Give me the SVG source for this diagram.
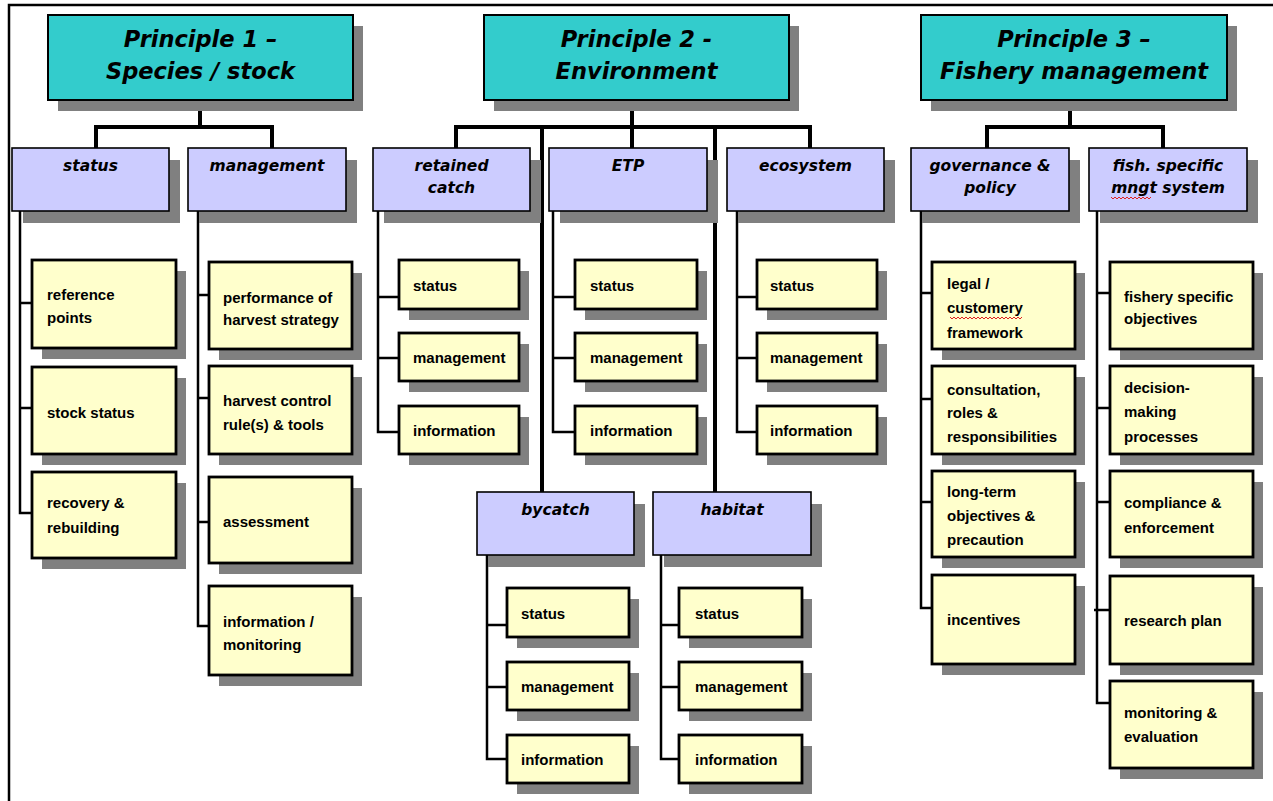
<svg xmlns="http://www.w3.org/2000/svg" width="1273" height="801" viewBox="0 0 1273 801">
<style>
.sh{fill:#808080}
.p{fill:#33CCCC;stroke:#000;stroke-width:2}
.c{fill:#CCCCFF;stroke:#000;stroke-width:1.6}
.b{fill:#FFFFCC;stroke:#000;stroke-width:2.8}
.tp{font-family:"DejaVu Sans",Verdana,sans-serif;font-weight:bold;font-style:italic;font-size:22.5px;text-anchor:middle;fill:#000}
.tc{font-family:"DejaVu Sans",Verdana,sans-serif;font-weight:bold;font-style:italic;font-size:15.5px;text-anchor:middle;fill:#000}
.tb{font-family:"Liberation Sans",Arial,sans-serif;font-weight:bold;font-size:15px;fill:#000}
.thick{fill:none;stroke:#000;stroke-width:4}
.thin{fill:none;stroke:#000;stroke-width:2.5}
.sq{fill:none;stroke:#e02020;stroke-width:1}
</style>
<rect x="0" y="0" width="1273" height="801" fill="#fff"/>
<path d="M9,801 V5 H1273" fill="none" stroke="#000" stroke-width="2.5"/>

<g id="connectors">
<path class="thick" d="M200,100 V127 M96,127 H272 M96,125 V148 M272,125 V148"/>
<path class="thick" d="M632,100 V148 M456,127 H812 M456,125 V148 M542,125 V492 M715,125 V492 M810,125 V148"/>
<path class="thick" d="M1070,100 V127 M987,127 H1165 M987,125 V148 M1163,125 V148"/>
<path class="thin" d="M20,211 V513 H32 M20,303 H32 M20,408 H32"/>
<path class="thin" d="M198,211 V626 H209 M198,295 H209 M198,398 H209 M198,522 H209"/>
<path class="thin" d="M378,211 V432 H399 M378,297 H399 M378,358 H399"/>
<path class="thin" d="M553,211 V432 H575 M553,297 H575 M553,358 H575"/>
<path class="thin" d="M737,211 V432 H757 M737,297 H757 M737,358 H757"/>
<path class="thin" d="M487,555 V759 H507 M487,625 H507 M487,687 H507"/>
<path class="thin" d="M661,555 V759 H679 M661,625 H679 M661,687 H679"/>
<path class="thin" d="M921,211 V608 H932 M921,293 H932 M921,399 H932 M921,502 H932"/>
<path class="thin" d="M1097,211 V703 H1110 M1097,293 H1110 M1097,408 H1110 M1097,502 H1110 M1094,610 H1110"/>
</g>

<g id="p1">
<rect class="sh" x="58" y="26" width="305" height="85"/>
<rect class="p" x="48" y="15" width="305" height="85"/>
<text class="tp" x="200.5" y="47">Principle 1 –</text>
<text class="tp" x="200.5" y="79">Species / stock</text>
</g>
<g id="p2">
<rect class="sh" x="494" y="26" width="305" height="85"/>
<rect class="p" x="484" y="15" width="305" height="85"/>
<text class="tp" x="636.5" y="47">Principle 2 -</text>
<text class="tp" x="636.5" y="79">Environment</text>
</g>
<g id="p3">
<rect class="sh" x="931" y="26" width="306" height="85"/>
<rect class="p" x="921" y="15" width="306" height="85"/>
<text class="tp" x="1074" y="47">Principle 3 –</text>
<text class="tp" x="1074" y="79">Fishery management</text>
</g>

<g id="c-status">
<rect class="sh" x="23" y="160" width="157" height="63"/>
<rect class="c" x="12" y="148" width="157" height="63"/>
<text class="tc" x="90.5" y="171">status</text>
</g>
<g id="c-management">
<rect class="sh" x="199" y="160" width="158" height="63"/>
<rect class="c" x="188" y="148" width="158" height="63"/>
<text class="tc" x="267" y="171">management</text>
</g>
<g id="c-retained">
<rect class="sh" x="384" y="160" width="157" height="63"/>
<rect class="c" x="373" y="148" width="157" height="63"/>
<text class="tc" x="451.5" y="171">retained</text>
<text class="tc" x="451.5" y="193">catch</text>
</g>
<g id="c-etp">
<rect class="sh" x="560" y="160" width="158" height="63"/>
<rect class="c" x="549" y="148" width="158" height="63"/>
<text class="tc" x="628" y="171">ETP</text>
</g>
<g id="c-ecosystem">
<rect class="sh" x="738" y="160" width="157" height="63"/>
<rect class="c" x="727" y="148" width="157" height="63"/>
<text class="tc" x="805.5" y="171">ecosystem</text>
</g>
<g id="c-bycatch">
<rect class="sh" x="488" y="504" width="157" height="63"/>
<rect class="c" x="477" y="492" width="157" height="63"/>
<text class="tc" x="555.5" y="515">bycatch</text>
</g>
<g id="c-habitat">
<rect class="sh" x="664" y="504" width="158" height="63"/>
<rect class="c" x="653" y="492" width="158" height="63"/>
<text class="tc" x="732" y="515">habitat</text>
</g>
<g id="c-governance">
<rect class="sh" x="922" y="160" width="158" height="63"/>
<rect class="c" x="911" y="148" width="158" height="63"/>
<text class="tc" x="990" y="171">governance &amp;</text>
<text class="tc" x="990" y="193">policy</text>
</g>
<g id="c-fish">
<rect class="sh" x="1100" y="160" width="158" height="63"/>
<rect class="c" x="1089" y="148" width="158" height="63"/>
<text class="tc" x="1168" y="171">fish. specific</text>
<text class="tc" x="1168" y="193">mngt system</text>
<path class="sq" d="M1111,197 l2,2 l2,-2 l2,2 l2,-2 l2,2 l2,-2 l2,2 l2,-2 l2,2 l2,-2 l2,2 l2,-2 l2,2 l2,-2 l2,2 l2,-2 l2,2 l2,-2 l2,2 l2,-2"/>
</g>

<g id="s-reference">
<rect class="sh" x="42" y="271" width="144" height="88"/>
<rect class="b" x="32" y="260" width="144" height="88"/>
<text class="tb" x="47" y="300">reference</text>
<text class="tb" x="47" y="323">points</text>
</g>
<g id="s-stock">
<rect class="sh" x="42" y="378" width="144" height="87"/>
<rect class="b" x="32" y="367" width="144" height="87"/>
<text class="tb" x="47" y="418">stock status</text>
</g>
<g id="s-recovery">
<rect class="sh" x="42" y="483" width="144" height="86"/>
<rect class="b" x="32" y="472" width="144" height="86"/>
<text class="tb" x="47" y="508">recovery &amp;</text>
<text class="tb" x="47" y="533">rebuilding</text>
</g>

<g id="m-performance">
<rect class="sh" x="219" y="273" width="143" height="87"/>
<rect class="b" x="209" y="262" width="143" height="87"/>
<text class="tb" x="223" y="303">performance of</text>
<text class="tb" x="223" y="325">harvest strategy</text>
</g>
<g id="m-hcr">
<rect class="sh" x="219" y="377" width="143" height="88"/>
<rect class="b" x="209" y="366" width="143" height="88"/>
<text class="tb" x="223" y="406">harvest control</text>
<text class="tb" x="223" y="430">rule(s) &amp; tools</text>
</g>
<g id="m-assessment">
<rect class="sh" x="219" y="488" width="143" height="86"/>
<rect class="b" x="209" y="477" width="143" height="86"/>
<text class="tb" x="223" y="527">assessment</text>
</g>
<g id="m-information">
<rect class="sh" x="219" y="597" width="143" height="89"/>
<rect class="b" x="209" y="586" width="143" height="89"/>
<text class="tb" x="223" y="627">information /</text>
<text class="tb" x="223" y="650">monitoring</text>
</g>

<g id="rc-status">
<rect class="sh" x="409" y="271" width="120" height="49"/>
<rect class="b" x="399" y="260" width="120" height="49"/>
<text class="tb" x="413" y="291">status</text>
</g>
<g id="rc-management">
<rect class="sh" x="409" y="344" width="120" height="48"/>
<rect class="b" x="399" y="333" width="120" height="48"/>
<text class="tb" x="413" y="363">management</text>
</g>
<g id="rc-information">
<rect class="sh" x="409" y="417" width="120" height="48"/>
<rect class="b" x="399" y="406" width="120" height="48"/>
<text class="tb" x="413" y="436">information</text>
</g>

<g id="etp-status">
<rect class="sh" x="585" y="271" width="122" height="49"/>
<rect class="b" x="575" y="260" width="122" height="49"/>
<text class="tb" x="590" y="291">status</text>
</g>
<g id="etp-management">
<rect class="sh" x="585" y="344" width="122" height="48"/>
<rect class="b" x="575" y="333" width="122" height="48"/>
<text class="tb" x="590" y="363">management</text>
</g>
<g id="etp-information">
<rect class="sh" x="585" y="417" width="122" height="48"/>
<rect class="b" x="575" y="406" width="122" height="48"/>
<text class="tb" x="590" y="436">information</text>
</g>

<g id="eco-status">
<rect class="sh" x="767" y="271" width="120" height="49"/>
<rect class="b" x="757" y="260" width="120" height="49"/>
<text class="tb" x="770" y="291">status</text>
</g>
<g id="eco-management">
<rect class="sh" x="767" y="344" width="120" height="48"/>
<rect class="b" x="757" y="333" width="120" height="48"/>
<text class="tb" x="770" y="363">management</text>
</g>
<g id="eco-information">
<rect class="sh" x="767" y="417" width="120" height="48"/>
<rect class="b" x="757" y="406" width="120" height="48"/>
<text class="tb" x="770" y="436">information</text>
</g>

<g id="by-status">
<rect class="sh" x="517" y="599" width="122" height="49"/>
<rect class="b" x="507" y="588" width="122" height="49"/>
<text class="tb" x="521" y="619">status</text>
</g>
<g id="by-management">
<rect class="sh" x="517" y="673" width="122" height="48"/>
<rect class="b" x="507" y="662" width="122" height="48"/>
<text class="tb" x="521" y="692">management</text>
</g>
<g id="by-information">
<rect class="sh" x="517" y="746" width="122" height="48"/>
<rect class="b" x="507" y="735" width="122" height="48"/>
<text class="tb" x="521" y="765">information</text>
</g>

<g id="hab-status">
<rect class="sh" x="689" y="599" width="123" height="49"/>
<rect class="b" x="679" y="588" width="123" height="49"/>
<text class="tb" x="695" y="619">status</text>
</g>
<g id="hab-management">
<rect class="sh" x="689" y="673" width="123" height="48"/>
<rect class="b" x="679" y="662" width="123" height="48"/>
<text class="tb" x="695" y="692">management</text>
</g>
<g id="hab-information">
<rect class="sh" x="689" y="746" width="123" height="48"/>
<rect class="b" x="679" y="735" width="123" height="48"/>
<text class="tb" x="695" y="765">information</text>
</g>

<g id="g-legal">
<rect class="sh" x="942" y="273" width="143" height="87"/>
<rect class="b" x="932" y="262" width="143" height="87"/>
<text class="tb" x="947" y="289">legal /</text>
<text class="tb" x="947" y="313">customery</text>
<text class="tb" x="947" y="338">framework</text>
<path class="sq" d="M950,317 l2,2 l2,-2 l2,2 l2,-2 l2,2 l2,-2 l2,2 l2,-2 l2,2 l2,-2 l2,2 l2,-2 l2,2 l2,-2 l2,2 l2,-2 l2,2 l2,-2 l2,2 l2,-2 l2,2 l2,-2 l2,2 l2,-2 l2,2 l2,-2 l2,2 l2,-2 l2,2 l2,-2 l2,2 l2,-2 l2,2 l2,-2 l2,2 l2,-2"/>
</g>
<g id="g-consultation">
<rect class="sh" x="942" y="377" width="143" height="88"/>
<rect class="b" x="932" y="366" width="143" height="88"/>
<text class="tb" x="947" y="395">consultation,</text>
<text class="tb" x="947" y="418">roles &amp;</text>
<text class="tb" x="947" y="442">responsibilities</text>
</g>
<g id="g-longterm">
<rect class="sh" x="942" y="482" width="143" height="86"/>
<rect class="b" x="932" y="471" width="143" height="86"/>
<text class="tb" x="947" y="497">long-term</text>
<text class="tb" x="947" y="521">objectives &amp;</text>
<text class="tb" x="947" y="545">precaution</text>
</g>
<g id="g-incentives">
<rect class="sh" x="942" y="586" width="143" height="89"/>
<rect class="b" x="932" y="575" width="143" height="89"/>
<text class="tb" x="947" y="625">incentives</text>
</g>

<g id="f-objectives">
<rect class="sh" x="1120" y="273" width="143" height="87"/>
<rect class="b" x="1110" y="262" width="143" height="87"/>
<text class="tb" x="1124" y="302">fishery specific</text>
<text class="tb" x="1124" y="324">objectives</text>
</g>
<g id="f-decision">
<rect class="sh" x="1120" y="377" width="143" height="88"/>
<rect class="b" x="1110" y="366" width="143" height="88"/>
<text class="tb" x="1124" y="393">decision-</text>
<text class="tb" x="1124" y="417">making</text>
<text class="tb" x="1124" y="442">processes</text>
</g>
<g id="f-compliance">
<rect class="sh" x="1120" y="482" width="143" height="86"/>
<rect class="b" x="1110" y="471" width="143" height="86"/>
<text class="tb" x="1124" y="508">compliance &amp;</text>
<text class="tb" x="1124" y="533">enforcement</text>
</g>
<g id="f-research">
<rect class="sh" x="1120" y="587" width="143" height="88"/>
<rect class="b" x="1110" y="576" width="143" height="88"/>
<text class="tb" x="1124" y="626">research plan</text>
</g>
<g id="f-monitoring">
<rect class="sh" x="1120" y="692" width="143" height="87"/>
<rect class="b" x="1110" y="681" width="143" height="87"/>
<text class="tb" x="1124" y="718">monitoring &amp;</text>
<text class="tb" x="1124" y="742">evaluation</text>
</g>
</svg>
